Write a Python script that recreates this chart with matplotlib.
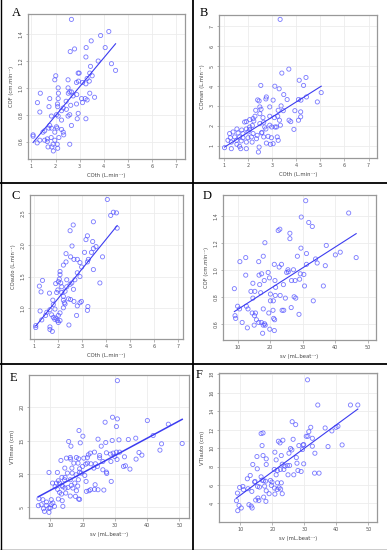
import numpy as np
import matplotlib.pyplot as plt
from matplotlib.lines import Line2D

# Panel A: COth vs COF
xA = [2.66, 3.87, 4.21, 3.48, 4.06, 3.27, 2.79, 2.61, 3.26, 3.77, 4.32, 4.49, 3.45, 2.94, 2.98,
      2.01, 1.97, 2.52, 2.87, 2.95, 3.12, 3.31, 3.42, 3.52, 3.40, 2.11, 2.52, 2.59, 2.66, 2.73,
      1.37, 1.76, 2.12, 2.11, 2.53, 2.88, 3.08, 3.42, 3.62, 3.26, 3.23, 1.25, 1.73, 2.08, 2.09,
      2.44, 2.63, 2.87, 3.12, 3.31, 1.35, 2.32, 2.45, 2.59, 2.52, 2.25, 2.04, 1.83, 2.90, 3.26,
      2.94, 2.25, 2.11, 1.76, 1.72, 1.83, 2.04, 2.07, 1.97, 2.25, 2.66, 1.48, 1.55, 2.32, 2.34,
      2.14, 1.07, 1.07, 1.35, 1.24, 1.66, 1.82, 1.66, 1.97, 1.55, 1.85, 1.90, 2.07, 1.69, 2.09,
      1.91, 2.59]
yA = [1.51, 1.39, 1.42, 1.35, 1.30, 1.30, 1.29, 1.27, 1.23, 1.20, 1.18, 1.13, 1.16, 1.11, 1.11,
      1.09, 1.06, 1.06, 1.04, 1.05, 1.04, 1.07, 1.11, 1.09, 1.05, 1.00, 1.00, 0.97, 0.97, 0.94,
      0.96, 0.92, 0.96, 0.92, 0.96, 0.95, 0.92, 0.96, 0.93, 1.03, 0.92, 0.89, 0.86, 0.88, 0.86,
      0.90, 0.87, 0.88, 0.89, 0.91, 0.82, 0.85, 0.84, 0.80, 0.79, 0.83, 0.80, 0.79, 0.77, 0.77,
      0.81, 0.76, 0.79, 0.72, 0.70, 0.70, 0.71, 0.70, 0.67, 0.69, 0.72, 0.67, 0.68, 0.67, 0.65,
      0.63, 0.65, 0.64, 0.61, 0.59, 0.62, 0.63, 0.60, 0.61, 0.61, 0.56, 0.58, 0.58, 0.56, 0.55,
      0.53, 0.58]
fitA = [0.215, 0.363]

# Panel B: COth vs COman
xB = [3.34, 3.70, 3.41, 2.54, 3.12, 4.13, 4.41, 4.31, 3.30, 2.41, 2.77, 2.75, 3.63, 3.49, 3.05,
      2.47, 4.10, 4.20, 4.43, 4.88, 5.04, 2.50, 2.33, 2.55, 2.91, 3.38, 3.26, 3.47, 3.95, 4.19,
      4.19, 4.10, 3.91, 3.71, 3.78, 3.31, 3.24, 3.10, 2.91, 2.63, 2.30, 2.22, 2.08, 1.94, 1.87,
      2.25, 2.50, 2.66, 2.50, 2.70, 2.75, 2.91, 2.99, 3.13, 3.35, 2.19, 2.08, 1.94, 2.08, 1.75,
      1.55, 1.39, 1.25, 1.60, 1.80, 2.01, 2.22, 2.57, 2.66, 2.84, 2.98, 3.22, 2.59, 2.39, 2.15,
      2.01, 1.80, 1.66, 1.46, 1.28, 1.18, 1.32, 1.53, 1.73, 1.94, 2.18, 2.36, 2.77, 2.94, 3.05,
      3.26, 1.55, 1.66, 1.71, 1.94, 2.47, 1.32, 2.44, 1.04, 3.19]
yB = [7.35, 4.85, 4.65, 4.03, 3.99, 4.29, 4.43, 4.03, 3.86, 3.30, 3.45, 3.35, 3.32, 3.57, 3.29,
      3.25, 3.32, 3.29, 3.45, 3.20, 3.67, 2.95, 2.78, 2.83, 2.95, 3.00, 2.78, 2.76, 2.76, 2.70,
      2.45, 2.28, 1.82, 2.28, 2.21, 2.28, 2.48, 2.41, 2.48, 2.41, 2.48, 2.36, 2.31, 2.21, 2.19,
      2.24, 2.61, 2.18, 2.11, 1.94, 1.84, 2.03, 1.94, 1.94, 2.03, 2.01, 1.81, 1.84, 1.94, 1.79,
      1.84, 1.69, 1.61, 1.64, 1.61, 1.69, 1.61, 1.64, 1.44, 1.47, 1.40, 1.44, 1.67, 1.52, 1.44,
      1.40, 1.40, 1.44, 1.44, 1.40, 1.27, 1.18, 1.27, 1.24, 1.18, 1.18, 1.35, 1.13, 1.07, 1.10,
      1.27, 1.07, 0.97, 0.85, 0.85, 0.93, 0.85, 0.68, 0.90, 1.94]
fitB = [0.765, 0.135]

# Panel C: COth vs COauto
xC = [4.05, 4.19, 4.30, 4.43, 4.46, 2.63, 2.50, 3.47, 3.22, 3.16, 3.44, 3.58, 3.47, 2.58, 2.33,
      2.52, 2.66, 2.80, 3.10, 3.39, 3.85, 2.91, 3.26, 3.22, 2.98, 3.47, 3.74, 2.80, 2.70, 2.57,
      2.50, 2.64, 2.91, 2.36, 2.08, 2.08, 2.05, 2.01, 2.11, 1.90, 2.36, 2.29, 2.15, 1.99, 2.22,
      2.43, 2.52, 2.66, 2.91, 2.97, 2.80, 3.24, 3.22, 2.77, 2.22, 2.26, 2.29, 1.78, 1.80, 2.22,
      1.87, 2.08, 2.01, 1.80, 1.86, 1.91, 1.97, 2.01, 2.08, 1.73, 1.53, 1.66, 1.48, 1.25, 1.32,
      1.66, 1.66, 1.76, 2.45, 1.07, 1.07, 1.22, 1.29, 1.35, 2.22, 2.33, 2.15, 1.94, 1.64]
yC = [2.71, 2.46, 2.51, 2.50, 2.26, 2.31, 2.22, 2.36, 2.14, 2.08, 2.05, 1.97, 1.94, 1.98, 1.86,
      1.81, 1.77, 1.77, 1.88, 1.88, 1.81, 1.72, 1.77, 1.73, 1.65, 1.61, 1.40, 1.56, 1.45, 1.40,
      1.38, 1.30, 1.50, 1.45, 1.58, 1.53, 1.46, 1.42, 1.40, 1.39, 1.34, 1.27, 1.25, 1.29, 1.19,
      1.15, 1.14, 1.11, 1.09, 1.11, 1.04, 1.03, 0.97, 0.89, 1.13, 1.09, 1.07, 1.13, 1.06, 1.01,
      0.99, 0.93, 0.89, 0.86, 0.83, 0.85, 0.81, 0.78, 0.81, 0.90, 0.94, 0.98, 0.89, 0.96, 0.82,
      0.71, 0.67, 0.64, 0.74, 0.73, 0.70, 1.35, 1.26, 1.44, 1.68, 1.73, 1.34, 1.25, 1.24]
fitC = [0.465, 0.226]

# Panel D: sv vs COF
xD = [30.97, 44.2, 29.6, 31.9, 33.0, 23.0, 22.5, 26.1, 26.1, 18.4, 37.3, 29.5, 41.6, 40.1, 46.5,
      31.2, 28.4, 12.5, 17.9, 10.7, 16.5, 34.0, 34.5, 37.0, 31.2, 23.5, 21.3, 22.8, 25.5, 25.6,
      27.2, 12.5, 16.6, 17.4, 19.8, 18.2, 19.4, 25.1, 29.3, 30.4, 21.5, 14.7, 16.8, 24.1, 26.6,
      27.7, 29.1, 30.6, 36.4, 9.0, 14.1, 15.3, 17.1, 14.7, 20.1, 21.6, 23.1, 21.7, 24.7, 27.4,
      27.9, 33.3, 20.1, 21.0, 12.7, 17.9, 20.9, 23.7, 24.2, 26.5, 10.0, 10.6, 13.2, 14.5, 15.5,
      15.2, 15.8, 19.6, 21.1, 21.4, 28.9, 9.2, 9.4, 11.4, 15.1, 16.5, 17.3, 17.9, 18.5, 18.3,
      13.0, 19.9, 21.3, 17.7]
yD = [1.511, 1.42, 1.39, 1.35, 1.32, 1.30, 1.29, 1.27, 1.23, 1.20, 1.18, 1.16, 1.13, 1.11, 1.09,
      1.12, 1.10, 1.09, 1.10, 1.06, 1.06, 1.08, 1.05, 1.03, 1.04, 1.04, 1.04, 1.02, 1.00, 0.985,
      1.00, 0.96, 0.96, 0.97, 0.94, 0.92, 0.98, 0.98, 0.97, 0.965, 0.92, 0.90, 0.89, 0.89, 0.92,
      0.92, 0.93, 0.88, 0.88, 0.86, 0.84, 0.84, 0.83, 0.79, 0.82, 0.81, 0.81, 0.87, 0.79, 0.80,
      0.79, 0.77, 0.77, 0.77, 0.73, 0.71, 0.70, 0.70, 0.70, 0.72, 0.73, 0.71, 0.71, 0.68, 0.68,
      0.66, 0.63, 0.68, 0.64, 0.63, 0.67, 0.66, 0.64, 0.61, 0.59, 0.61, 0.61, 0.59, 0.59, 0.60,
      0.57, 0.56, 0.55, 0.53]
fitD = [0.01538, 0.552]

# Panel E: sv vs VTIman
xE = [30.8, 29.3, 30.8, 27.0, 30.5, 40.1, 46.6, 18.9, 20.1, 15.7, 16.4, 19.3, 27.2, 24.8, 25.8,
      29.2, 31.3, 34.2, 36.5, 41.9, 44.5, 50.9, 44.0, 37.5, 38.4, 36.6, 30.5, 29.5, 31.5, 30.0,
      30.7, 33.0, 28.7, 27.4, 25.3, 25.3, 26.3, 23.7, 22.4, 21.8, 21.5, 20.4, 18.8, 18.1, 16.2,
      16.3, 15.0, 13.3, 17.3, 18.6, 21.5, 22.6, 24.0, 24.6, 23.5, 26.3, 27.4, 27.5, 28.9, 28.8,
      32.7, 33.3, 34.7, 21.0, 20.0, 19.1, 16.7, 14.5, 12.2, 9.6, 15.3, 16.8, 18.0, 19.1, 19.6,
      20.7, 21.1, 18.7, 17.6, 16.2, 14.4, 14.6, 13.6, 12.5, 11.9, 12.9, 13.6, 13.9, 14.6, 15.5,
      16.5, 17.0, 18.5, 18.1, 21.2, 22.0, 22.5, 23.9, 24.8, 26.6, 23.7, 10.7, 11.5, 12.3, 12.9,
      13.5, 14.8, 16.2, 17.8, 18.8, 19.1, 12.5, 13.7, 13.9, 7.7, 6.5, 6.3, 7.2, 8.8, 8.8,
      9.6, 7.9, 8.2, 9.6, 10.3, 10.8, 10.3, 11.3, 10.0]
yE = [24.0, 18.5, 18.25, 17.75, 17.1, 18.0, 17.45, 16.5, 15.65, 14.85, 14.15, 14.65, 14.7, 15.2, 14.15,
      15.0, 15.1, 15.15, 15.35, 15.75, 14.5, 14.55, 13.55, 13.2, 12.8, 12.2, 13.25, 13.1, 13.25, 12.6,
      12.15, 12.55, 12.95, 13.15, 12.75, 12.4, 11.85, 13.25, 13.1, 12.85, 12.45, 12.35, 12.25, 12.45, 12.45,
      12.2, 12.35, 12.0, 11.6, 11.6, 11.6, 11.5, 11.5, 11.1, 10.85, 10.6, 10.25, 10.05, 8.85, 11.85,
      11.1, 11.2, 10.7, 11.45, 11.1, 10.75, 10.85, 10.85, 10.2, 10.2, 10.1, 10.1, 9.85, 10.25, 10.1,
      9.75, 8.85, 9.1, 8.6, 9.1, 9.1, 9.45, 9.45, 8.95, 8.6, 8.6, 8.25, 8.05, 7.85, 7.95,
      8.25, 7.85, 8.15, 7.45, 7.35, 7.45, 7.6, 8.35, 7.6, 7.55, 7.65, 8.6, 8.05, 7.65, 7.2,
      6.95, 7.1, 6.65, 6.6, 6.2, 6.15, 6.2, 5.95, 5.1, 6.1, 6.25, 5.2, 5.35, 5.75, 5.25,
      4.85, 4.75, 4.35, 4.2, 5.35, 5.6, 6.1, 5.1, 4.85]
fitE = [0.261, 4.90]

# Panel F: sv vs VTIauto
xF = [31.0, 34.2, 44.4, 46.7, 26.2, 27.3, 32.0, 36.5, 39.9, 40.5, 38.6, 31.4, 31.1, 30.6, 32.5,
      17.1, 16.5, 21.9, 22.4, 23.3, 26.5, 16.8, 29.8, 29.6, 28.3, 32.5, 37.4, 41.8, 25.7, 26.1,
      25.2, 29.4, 33.3, 15.2, 17.1, 20.8, 22.8, 27.5, 18.1, 21.2, 13.9, 18.1, 23.1, 23.9, 24.7,
      25.4, 27.7, 29.8, 15.3, 20.6, 22.5, 23.6, 21.6, 28.0, 29.0, 33.2, 34.6, 21.2, 24.9, 26.7,
      13.1, 12.2, 16.5, 16.8, 17.3, 17.9, 14.5, 14.6, 19.4, 19.9, 21.6, 22.8, 17.6, 18.1, 19.7,
      20.7, 21.5, 22.1, 22.6, 10.8, 11.0, 12.4, 13.6, 15.4, 16.0, 19.0, 20.8, 23.1, 9.1, 9.8,
      17.3, 18.0, 15.5, 14.8, 15.8, 8.8, 9.6, 10.3, 12.7, 13.4, 13.7, 9.2]
yF = [17.4, 14.67, 14.67, 14.67, 12.86, 12.54, 12.25, 12.18, 12.25, 12.36, 11.86, 11.78, 11.28, 11.28, 11.06,
      11.64, 11.57, 10.74, 10.56, 10.85, 10.95, 10.27, 10.38, 10.34, 10.27, 10.2, 10.16, 10.34, 9.95, 9.8,
      9.44, 9.84, 9.44, 9.08, 9.19, 9.55, 9.19, 8.97, 8.83, 8.72, 8.22, 8.22, 8.25, 8.04, 8.11,
      8.11, 8.36, 8.29, 7.75, 7.68, 7.68, 7.68, 7.57, 7.57, 7.46, 7.28, 7.28, 7.1, 7.1, 7.1,
      7.03, 6.67, 6.88, 6.52, 6.45, 6.41, 6.31, 6.38, 6.49, 6.31, 6.23, 6.23, 5.87, 5.37, 5.95,
      5.66, 5.51, 5.69, 5.55, 5.84, 5.48, 5.59, 5.30, 5.84, 5.77, 5.05, 5.01, 5.05, 5.12, 5.73,
      4.68, 4.22, 4.58, 4.36, 4.32, 4.29, 3.78, 3.50, 3.86, 3.71, 3.50, 3.21]
fitF = [0.2546, 2.34]

panels = [
    ("A", xA, yA, fitA, "COth (L.min⁻¹)", "COF (cm.min⁻¹)", [1, 2, 3, 4, 5, 6, 7], [0.6, 0.8, 1.0, 1.2, 1.4],
     (0.86, 7.37), (0.47, 1.55), [0.0724, 0.7109, 0.4057, 0.2636], (12, 13)),
    ("B", xB, yB, fitB, "COth (L.min⁻¹)", "COman (L.min⁻¹)", [1, 2, 3, 4, 5, 6, 7], [1, 2, 3, 4, 5, 6, 7],
     (0.81, 7.35), (0.38, 7.57), [0.5659, 0.7127, 0.4083, 0.26], (200, 13)),
    ("C", xC, yC, fitC, "COth (L.min⁻¹)", "COauto (L.min⁻¹)", [1, 2, 3, 4, 5, 6, 7], [1.0, 1.5, 2.0, 2.5],
     (0.83, 7.2), (0.52, 2.78), [0.0775, 0.3836, 0.3953, 0.2618], (11, 196)),
    ("D", xD, yD, fitD, "sv (mL.beat⁻¹)", "COF (cm.min⁻¹)", [10, 20, 30, 40, 50], [0.6, 0.8, 1.0, 1.2, 1.4],
     (5.5, 52.6), (0.48, 1.553), [0.5762, 0.3818, 0.3953, 0.2636], (203, 196)),
    ("E", xE, yE, fitE, "sv (mL.beat⁻¹)", "VTIman (cm)", [10, 20, 30, 40, 50], [5, 10, 15, 20],
     (3.4, 53.0), (3.35, 24.85), [0.0749, 0.0582, 0.4134, 0.26], (10, 378)),
    ("F", xF, yF, fitF, "sv (mL.beat⁻¹)", "VTIauto (cm)", [10, 20, 30, 40, 50], [4, 6, 8, 10, 12, 14, 16, 18],
     (3.35, 52.7), (1.98, 18.14), [0.5659, 0.0509, 0.4083, 0.2709], (196, 375)),
]

W, H = 387, 550
fig = plt.figure(figsize=(W / 100, H / 100), dpi=100)
fig.patch.set_facecolor("white")

for letter, x, y, fit, xlab, ylab, xt, yt, xl, yl, pos, lpos in panels:
    ax = fig.add_axes(pos)
    ax.set_xlim(*xl)
    ax.set_ylim(*yl)
    ax.set_xticks(xt)
    ax.set_yticks(yt)
    ax.set_yticklabels([str(v) for v in yt], rotation=90, va="center")
    ax.grid(True, color="#ececec", linewidth=0.6)
    ax.set_axisbelow(True)
    for s in ax.spines.values():
        s.set_color("#999999")
        s.set_linewidth(0.9)
    ax.tick_params(length=1.8, width=0.5, color="#999999", labelsize=3.5,
                   labelcolor="#555555", pad=1.5)
    ax.set_xlabel(xlab, fontsize=3.8, color="#444444", labelpad=3)
    ax.set_ylabel(ylab, fontsize=3.8, color="#444444", labelpad=3)
    ax.scatter(x, y, s=9, facecolors="none", edgecolors="#4d4dff", linewidths=0.6, alpha=0.75)
    xs = np.array([min(x), max(x)])
    lw = 1.1 if letter == "E" else 0.8
    ax.plot(xs, fit[0] * xs + fit[1], color="#3c3cf0", linewidth=lw)
    fig.text(lpos[0] / W, 1 - lpos[1] / H, letter, fontsize=9, family="Liberation Serif",
             va="center", ha="left")

# panel separators
def fline(x0, y0, x1, y1, lw=1.3):
    fig.add_artist(Line2D([x0 / W, x1 / W], [1 - y0 / H, 1 - y1 / H], color="black",
                          linewidth=lw, transform=fig.transFigure))

fline(193, 0, 193, H)
fline(0, 183, W, 183)
fline(0, 364, W, 364)
fline(0.5, 0, 0.5, H, 1.0)
fline(0, H - 0.5, W, H - 0.5, 1.0)

fig.savefig("out.png", dpi=100)
